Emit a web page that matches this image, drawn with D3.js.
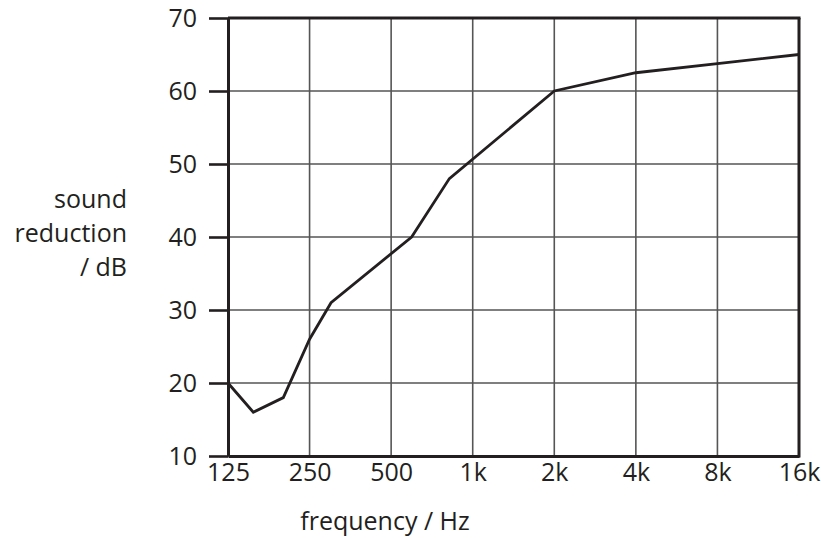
<!DOCTYPE html>
<html>
<head>
<meta charset="utf-8">
<script src="https://cdn.jsdelivr.net/npm/d3@7"></script>
<style>
  html, body { margin: 0; padding: 0; background: #fff; }
  text { font-family: "Open Sans", sans-serif; fill: #231f20; }
</style>
</head>
<body>
<div id="chart"></div>
<script>
// frequency (Hz) and sound reduction (dB)
var freqs = [125, 155, 200, 250, 300, 595, 820, 2000, 4000, 8000, 16000];
var reduction = [20, 16, 18, 26, 31, 40, 48, 60, 62.5, 63.75, 65];

var xTicks = [125, 250, 500, 1000, 2000, 4000, 8000, 16000];
var xTickLabels = ["125", "250", "500", "1k", "2k", "4k", "8k", "16k"];
var yTicks = [10, 20, 30, 40, 50, 60, 70];
var yLabelLines = ["sound", "reduction", "/ dB"];

var width = 821, height = 538;
var plotLeft = 228, plotRight = 799, plotTop = 18, plotBottom = 456;
var ink = "#231f20";

var svg = d3.select("#chart").append("svg")
    .attr("width", width)
    .attr("height", height);

var x = d3.scaleLog().base(2)
    .domain([125, 16000])
    .range([plotLeft, plotRight]);

var y = d3.scaleLinear()
    .domain([10, 70])
    .range([plotBottom, plotTop]);

// grid
var grid = svg.append("g").attr("class", "grid");
grid.selectAll("line.v")
    .data(xTicks)
    .enter().append("line")
    .attr("class", "v")
    .attr("x1", function (d) { return x(d); })
    .attr("x2", function (d) { return x(d); })
    .attr("y1", plotTop)
    .attr("y2", plotBottom)
    .attr("stroke", "#555")
    .attr("stroke-width", 1.6);
grid.selectAll("line.h")
    .data(yTicks)
    .enter().append("line")
    .attr("class", "h")
    .attr("x1", plotLeft)
    .attr("x2", plotRight)
    .attr("y1", function (d) { return y(d); })
    .attr("y2", function (d) { return y(d); })
    .attr("stroke", "#555")
    .attr("stroke-width", 1.6);

// y axis with long outward ticks
var yAxis = svg.append("g")
    .attr("transform", "translate(" + plotLeft + ",0)")
    .call(d3.axisLeft(y).tickValues(yTicks).tickSize(19).tickPadding(12).tickSizeOuter(0));
yAxis.select(".domain").attr("stroke", ink).attr("stroke-width", 3);
yAxis.selectAll(".tick line").attr("stroke", ink).attr("stroke-width", 2.6);
yAxis.selectAll(".tick text")
    .attr("font-size", 25)
    .attr("font-family", "'Open Sans', sans-serif")
    .attr("fill", ink);

// x axis
var xAxis = svg.append("g")
    .attr("transform", "translate(0," + plotBottom + ")")
    .call(d3.axisBottom(x).tickValues(xTicks).tickSize(0).tickPadding(7)
        .tickFormat(function (d, i) { return xTickLabels[i]; }));
xAxis.select(".domain").attr("stroke", ink).attr("stroke-width", 3);
xAxis.selectAll(".tick text")
    .attr("font-size", 25)
    .attr("font-family", "'Open Sans', sans-serif")
    .attr("fill", ink);

// frame: top and right edges
svg.append("line")
    .attr("x1", plotLeft).attr("x2", plotRight + 1.5)
    .attr("y1", plotTop).attr("y2", plotTop)
    .attr("stroke", ink).attr("stroke-width", 3);
svg.append("line")
    .attr("x1", plotRight).attr("x2", plotRight)
    .attr("y1", plotTop).attr("y2", plotBottom + 1.5)
    .attr("stroke", ink).attr("stroke-width", 3);

// curve
var pts = freqs.map(function (f, i) { return [f, reduction[i]]; });
svg.append("path")
    .datum(pts)
    .attr("fill", "none")
    .attr("stroke", ink)
    .attr("stroke-width", 2.8)
    .attr("stroke-linejoin", "miter")
    .attr("d", d3.line()
        .x(function (d) { return x(d[0]); })
        .y(function (d) { return y(d[1]); }));

// axis titles
svg.append("text")
    .attr("text-anchor", "end")
    .attr("font-size", 25)
    .selectAll("tspan")
    .data(yLabelLines)
    .enter().append("tspan")
    .attr("x", 127)
    .attr("y", function (d, i) { return 208 + i * 34; })
    .text(function (d) { return d; });

svg.append("text")
    .attr("x", 385)
    .attr("y", 530)
    .attr("text-anchor", "middle")
    .attr("font-size", 25)
    .text("frequency / Hz");
</script>
</body>
</html>
